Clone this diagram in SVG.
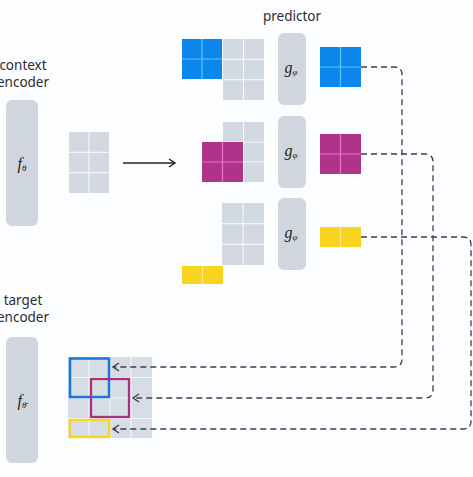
<svg xmlns="http://www.w3.org/2000/svg" width="473" height="477" viewBox="0 0 473 477">
<style>
.lbl{font-family:"Noto Sans","Liberation Sans",sans-serif;font-size:13.5px;fill:#2a2d33;text-anchor:middle}
.math{font-family:"Liberation Serif","DejaVu Serif",serif;font-style:italic;font-size:16px;fill:#1c1f24;text-anchor:middle}
.sub{font-size:9px}
.enc{fill:#cfd6de}
.gray{fill:#d3d9e0}
.tgray{fill:#d7dde4}
.gap{stroke:#f4f6f8;stroke-width:1.2}
.blue{fill:#0b86ea}
.bgap{stroke:#5cc6ff;stroke-width:1.2}
.mag{fill:#b0338a}
.mgap{stroke:#e474c4;stroke-width:1.2}
.yel{fill:#f8d41e}
.ygap{stroke:#fde98c;stroke-width:1.2}
.dash{fill:none;stroke:#3a3f47;stroke-width:1.3;stroke-dasharray:6 4;marker-end:url(#chev)}
</style>
<defs>
<marker id="chev" markerUnits="userSpaceOnUse" markerWidth="10" markerHeight="12" refX="7" refY="5" orient="auto" viewBox="0 0 10 10">
<path d="M1,1 L7,5 L1,9" fill="none" stroke="#3a3f47" stroke-width="1.4"/>
</marker>
<marker id="chev2" markerUnits="userSpaceOnUse" markerWidth="10" markerHeight="12" refX="7" refY="5" orient="auto" viewBox="0 0 10 10">
<path d="M1,1 L7,5 L1,9" fill="none" stroke="#222" stroke-width="1.5"/>
</marker>
</defs>
<rect width="473" height="477" fill="#fcfdfe"/>

<g id="context-encoder">
<text class="lbl" x="23" y="70">context</text>
<text class="lbl" x="23" y="87">encoder</text>
<rect class="enc" x="6" y="100" width="32" height="126" rx="6"/>
<text class="math" x="22" y="169">f<tspan class="sub" dy="2">θ</tspan></text>
</g>

<g id="context-block">
<rect class="gray" x="69" y="132" width="40" height="61"/>
<path class="gap" d="M89,132V193M69,152.3H109M69,172.7H109"/>
</g>

<g id="predictor-label">
<text class="lbl" x="292" y="21">predictor</text>
</g>

<g id="pred-row1">
<rect class="blue" x="182" y="39" width="40" height="40"/>
<path class="bgap" d="M202,39V79M182,59H222"/>
<rect class="gray" x="223" y="39" width="41" height="61"/>
<path class="gap" d="M243.5,39V100M223,59.3H264M223,79.7H264"/>
</g>

<g id="pred-row2">
<rect class="gray" x="223" y="122" width="41" height="60"/>
<path class="gap" d="M243.5,122V182M223,142H264M223,162H264"/>
<rect class="mag" x="202" y="142" width="41" height="40"/>
<path class="mgap" d="M222.5,142V182M202,162H243"/>
</g>

<g id="pred-row3">
<rect class="gray" x="222" y="203" width="42" height="62"/>
<path class="gap" d="M243,203V265M222,223.7H264M222,244.3H264"/>
<rect class="yel" x="182" y="266" width="41" height="18"/>
<path class="ygap" d="M202.5,266V284"/>
</g>

<g id="g1">
<rect class="enc" x="278" y="33" width="28" height="72" rx="6"/>
<text class="math" x="291" y="73">g<tspan class="sub" dy="2">φ</tspan></text>
</g>
<g id="g2">
<rect class="enc" x="278" y="116" width="28" height="72" rx="6"/>
<text class="math" x="291" y="156">g<tspan class="sub" dy="2">φ</tspan></text>
</g>
<g id="g3">
<rect class="enc" x="278" y="198" width="28" height="72" rx="6"/>
<text class="math" x="291" y="238">g<tspan class="sub" dy="2">φ</tspan></text>
</g>

<g id="out-blue">
<rect class="blue" x="320" y="47" width="41" height="40"/>
<path class="bgap" d="M340.5,47V87M320,67H361"/>
</g>
<g id="out-mag">
<rect class="mag" x="320" y="134" width="41" height="40"/>
<path class="mgap" d="M340.5,134V174M320,154H361"/>
</g>
<g id="out-yel">
<rect class="yel" x="320" y="227" width="41" height="20"/>
<path class="ygap" d="M340.5,227V247"/>
</g>

<g id="target-encoder">
<text class="lbl" x="23" y="305">target</text>
<text class="lbl" x="23" y="322">encoder</text>
<rect class="enc" x="6" y="337" width="32" height="126" rx="6"/>
<text class="math" x="22" y="406">f<tspan class="sub" dy="2">θ̄</tspan></text>
</g>

<g id="target-block">
<rect class="tgray" x="68" y="357" width="84" height="81"/>
<path class="gap" d="M89,357V438M110,357V438M131,357V438M68,377.5H152M68,398H152M68,418.5H152"/>
<rect x="70" y="358.5" width="39" height="38.5" fill="none" stroke="#1577d8" stroke-width="2.5"/>
<rect x="91" y="379" width="38" height="38" fill="none" stroke="#a8327e" stroke-width="2.3"/>
<rect x="70" y="420" width="39" height="17" fill="none" stroke="#f5d52a" stroke-width="2.5"/>
</g>

<g id="connectors">
<line x1="123" y1="163" x2="175" y2="163" stroke="#222" stroke-width="1.5" marker-end="url(#chev2)"/>
<path class="dash" d="M361,67H394Q402,67 402,75V359Q402,367 394,367H113"/>
<path class="dash" d="M361,154H425Q433,154 433,162V390Q433,398 425,398H133"/>
<path class="dash" d="M361,237H463Q471,237 471,245V421Q471,429 463,429H113"/>
</g>
</svg>
